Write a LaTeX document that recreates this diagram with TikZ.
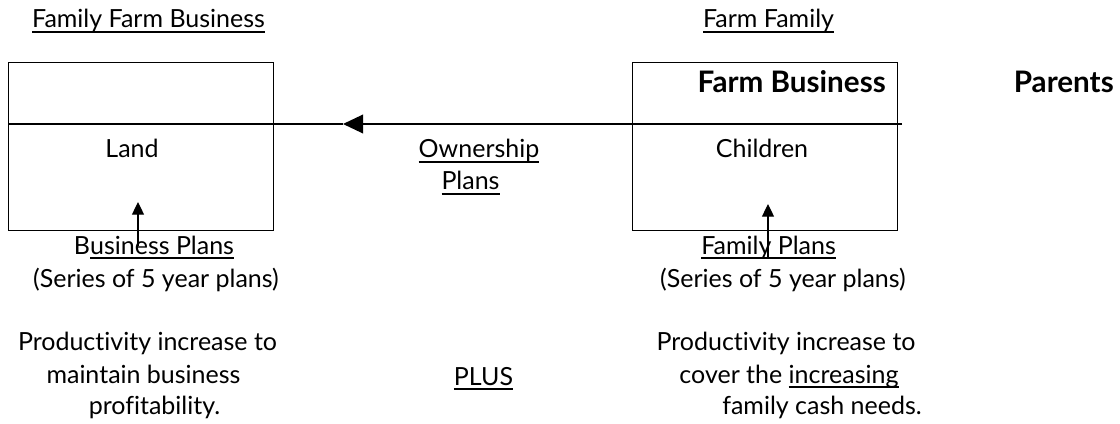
\documentclass[tikz,border=0pt]{standalone}
\usepackage{fontspec}
\setmainfont{Lato}[Ligatures=NoCommon]
\usetikzlibrary{arrows.meta}
\newlength\probew
% underline at a fixed depth below the baseline
\newcommand\undl[1]{\setbox0\hbox{#1}\rlap{\rule[-3.4pt]{\wd0}{0.9pt}}\box0}
% font sizes fitted to the line widths
\AtBeginDocument{%
  \settowidth\probew{\fontsize{10pt}{12pt}\selectfont Productivity increase to}%
  \pgfmathsetmacro\txtsize{10*194.25/\probew}%
  \settowidth\probew{\fontsize{10pt}{12pt}\selectfont\bfseries Farm Business}%
  \pgfmathsetmacro\boldsize{10*141/\probew}%
  \xdef\txtsize{\txtsize}\xdef\boldsize{\boldsize}}
\begin{document}
\begin{tikzpicture}[x=0.75pt,y=-0.75pt]
\tikzset{
  txt/.style={font=\fontsize{\txtsize pt}{\txtsize pt}\selectfont, inner sep=0pt, anchor=base, text=black},
  bold/.style={font=\fontsize{\boldsize pt}{\boldsize pt}\selectfont\bfseries, inner sep=0pt, anchor=base east, text=black},
  panel/.style={draw=black, line width=0.9pt, inner sep=0pt, minimum width=198.75pt, minimum height=126pt, anchor=north west},
  flow/.style={line width=1pt, -{Triangle[length=15pt,width=14pt]}},
  plan/.style={line width=0.9pt, -{Triangle[length=9.5pt,width=9pt]}}
}
\useasboundingbox (0,0) rectangle (1120,424);

% headings
\node[txt] (hbiz) at (148.5,28) {\undl{Family Farm Business}};
\node[txt] (hfam) at (768.5,28) {\undl{Farm Family}};

% the two panels
\node[panel] (lbox) at (8,62) {};
\node[panel] (rbox) at (632,62) {};

\node[bold] (fbiz) at (886,93) {Farm Business};
\node[bold] (par) at (1114,93) {Parents};

% ownership line
\coordinate (lineL) at (8,124);
\coordinate (tip) at (343,124);
\coordinate (lineR) at (902,124);
\draw[line width=1pt] (tip) -- (lineL);
\draw[flow] (lineR) -- (tip);

\node[txt] (land) at (132,158) {Land};
\node[txt] (kids) at (762,158) {Children};
\node[txt] (own1) at (479,158) {\undl{Ownership}};
\node[txt] (own2) at (470.5,190) {\undl{Plans}};

% plan arrows into the panels
\coordinate (bpTail) at (138,246);
\coordinate (bpHead) at (138,202);
\coordinate (fpTail) at (768,258);
\coordinate (fpHead) at (768,204);
\draw[plan] (bpTail) -- (bpHead);
\draw[plan] (fpTail) -- (fpHead);

% business side
\node[txt] (bp1) at (154,254) {B\undl{usiness Plans}};
\node[txt] (bp2) at (156,287) {(Series of 5 year plans)};
\node[txt] (bp3) at (147.5,350) {Productivity increase to};
\node[txt] (bp4) at (143.5,383) {maintain business};
\node[txt] (bp5) at (154.5,414) {profitability.};

\node[txt] (plus) at (483.5,385) {\undl{PLUS}};

% family side
\node[txt] (fp1) at (768.5,254) {\undl{Family Plans}};
\node[txt] (fp2) at (783,287) {(Series of 5 year plans)};
\node[txt] (fp3) at (786,350) {Productivity increase to};
\node[txt] (fp4) at (789,383) {cover the \undl{increasing}};
\node[txt] (fp5) at (822,414) {family cash needs.};
\end{tikzpicture}
\end{document}
